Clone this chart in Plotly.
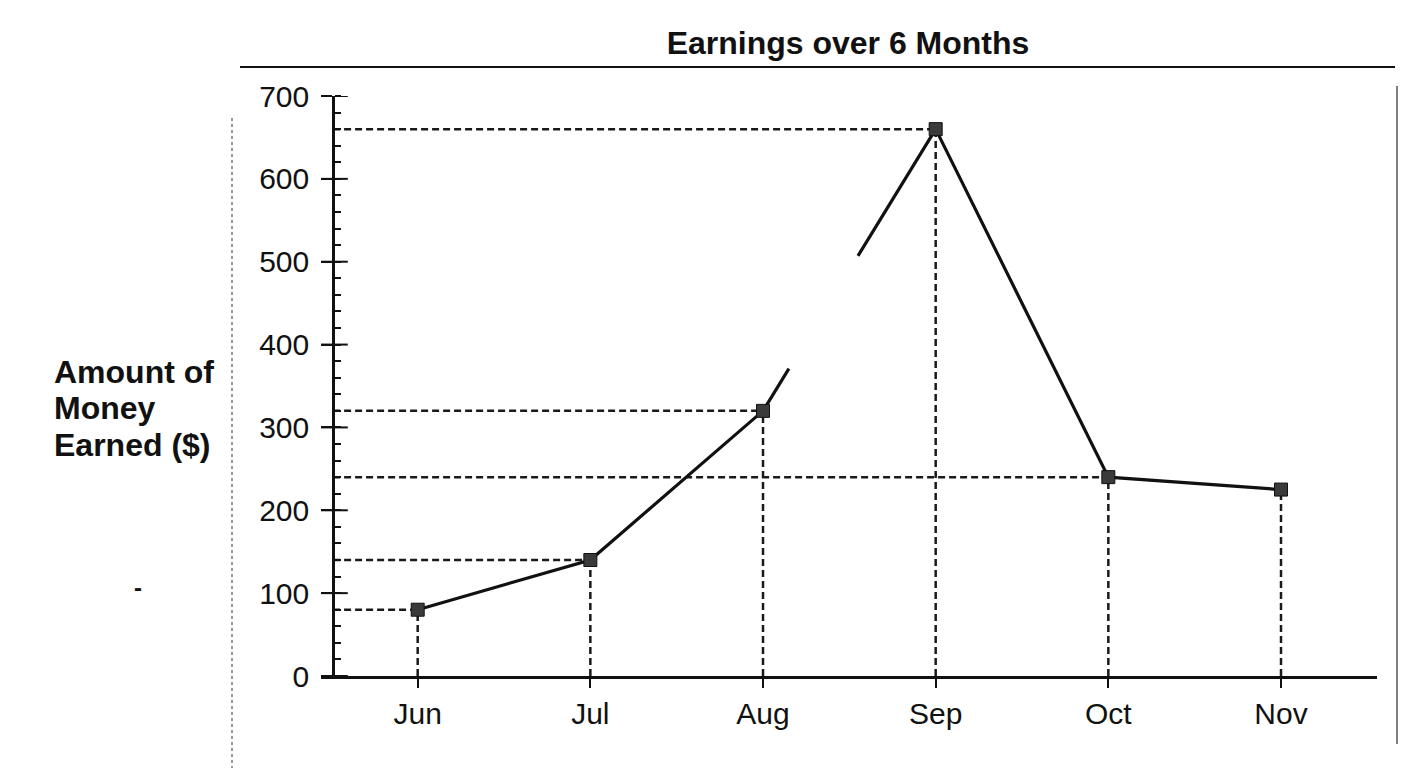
import plotly.graph_objects as go

months = ["Jun", "Jul", "Aug", "Sep", "Oct", "Nov"]
earnings = [80, 140, 320, 660, 240, 225]
y_ticks = [0, 100, 200, 300, 400, 500, 600, 700]
guide_months = ["Jun", "Jul", "Aug", "Sep", "Oct"]  # have a horizontal guide back to the axis
y_title_lines = ["Amount of", "Money", "Earned ($)"]

# the printed line is broken between Aug and Sep (fractions along that segment)
gap_from, gap_to = 0.15, 0.55

W, H = 1423, 768
PL, PR, PT, PB = 321, 1377, 96, 676  # plot area in pixels
X_MIN, X_MAX = -0.56, 5.556
Y_AXIS_X = -0.49

FONT = "Liberation Sans, Arial, sans-serif"
INK = "#111111"


def px_x(p):
    return (p - PL) / (PR - PL)


def px_y(p):
    return (PB - p) / (PB - PT)


xs = list(range(len(months)))

# build the broken line from the data
i_aug = months.index("Aug")
x0, x1 = xs[i_aug], xs[i_aug + 1]
v0, v1 = earnings[i_aug], earnings[i_aug + 1]
line_x, line_y = [], []
for i, (x, v) in enumerate(zip(xs, earnings)):
    line_x.append(x)
    line_y.append(v)
    if i == i_aug:
        line_x += [x0 + gap_from * (x1 - x0), None, x0 + gap_to * (x1 - x0)]
        line_y += [v0 + gap_from * (v1 - v0), None, v0 + gap_to * (v1 - v0)]

fig = go.Figure()

dash = dict(color="#1a1a1a", width=2.5, dash="7px,4px")
shapes = []
for x, v, m in zip(xs, earnings, months):
    shapes.append(dict(type="line", xref="x", yref="y", x0=x, x1=x, y0=0, y1=v, line=dash, layer="below"))
    if m in guide_months:
        shapes.append(dict(type="line", xref="x", yref="y", x0=Y_AXIS_X, x1=x, y0=v, y1=v, line=dash, layer="below"))

# title rule and the page borders of the scan
shapes.append(dict(type="line", xref="paper", yref="paper", x0=px_x(240), x1=px_x(1395),
                   y0=px_y(67), y1=px_y(67), line=dict(color=INK, width=2)))
shapes.append(dict(type="line", xref="paper", yref="paper", x0=px_x(232), x1=px_x(232),
                   y0=px_y(118), y1=px_y(768), line=dict(color="#777777", width=1.5, dash="dot")))
shapes.append(dict(type="line", xref="paper", yref="paper", x0=px_x(1397), x1=px_x(1397),
                   y0=px_y(86), y1=px_y(744), line=dict(color="#555555", width=1.5)))

fig.add_trace(go.Scatter(x=line_x, y=line_y, mode="lines",
                         line=dict(color=INK, width=3.2), hoverinfo="skip"))
fig.add_trace(go.Scatter(x=xs, y=earnings, mode="markers", text=months,
                         marker=dict(symbol="square", size=13, color="#3a3a3a",
                                     line=dict(color=INK, width=1))))
# major y ticks cross the axis line
fig.add_trace(go.Scatter(x=[Y_AXIS_X] * len(y_ticks), y=y_ticks, mode="markers", hoverinfo="skip",
                         marker=dict(symbol="line-ew", size=21, line=dict(color=INK, width=2))))

annotations = []
for k, txt in enumerate(y_title_lines):
    annotations.append(dict(text="<b>" + txt + "</b>", xref="paper", yref="paper",
                            x=px_x(52), y=px_y(385 + 36.5 * k), xanchor="left", yanchor="bottom",
                            align="left", showarrow=False, yshift=-7,
                            font=dict(family=FONT, size=32, color=INK)))
annotations.append(dict(text="<b>-</b>", xref="paper", yref="paper", x=px_x(132), y=px_y(603),
                        showarrow=False, font=dict(family=FONT, size=24, color=INK)))

fig.update_layout(
    width=W, height=H, autosize=False,
    margin=dict(l=PL, r=W - PR, t=PT, b=H - PB),
    paper_bgcolor="white", plot_bgcolor="white",
    showlegend=False,
    font=dict(family=FONT, color=INK, size=30),
    title=dict(text="<b>Earnings over 6 Months</b>", xref="container", yref="container",
               x=848 / W, y=1 - 43 / H, xanchor="center", yanchor="middle",
               font=dict(family=FONT, size=32, color=INK)),
    shapes=shapes,
    annotations=annotations,
)

fig.update_xaxes(
    range=[X_MIN, X_MAX], tickvals=xs, ticktext=months,
    showline=True, linecolor=INK, linewidth=2.5,
    ticks="outside", ticklen=9, tickwidth=2, tickcolor=INK,
    showgrid=False, zeroline=False,
    tickfont=dict(family=FONT, size=30, color=INK),
)
fig.update_yaxes(
    range=[0, 700], tickvals=y_ticks,
    anchor="free", position=px_x(333),
    showline=True, linecolor=INK, linewidth=2.5,
    ticks="outside", ticklen=11, tickwidth=2, tickcolor=INK,
    minor=dict(dtick=20, tick0=0, ticks="inside", ticklen=6, tickwidth=1.5, tickcolor=INK),
    showgrid=False, zeroline=False,
    tickfont=dict(family=FONT, size=30, color=INK),
    ticklabelstandoff=6,
)

fig.write_html("out.html", config={"displayModeBar": False},
               post_script="document.body.style.margin='0';")
